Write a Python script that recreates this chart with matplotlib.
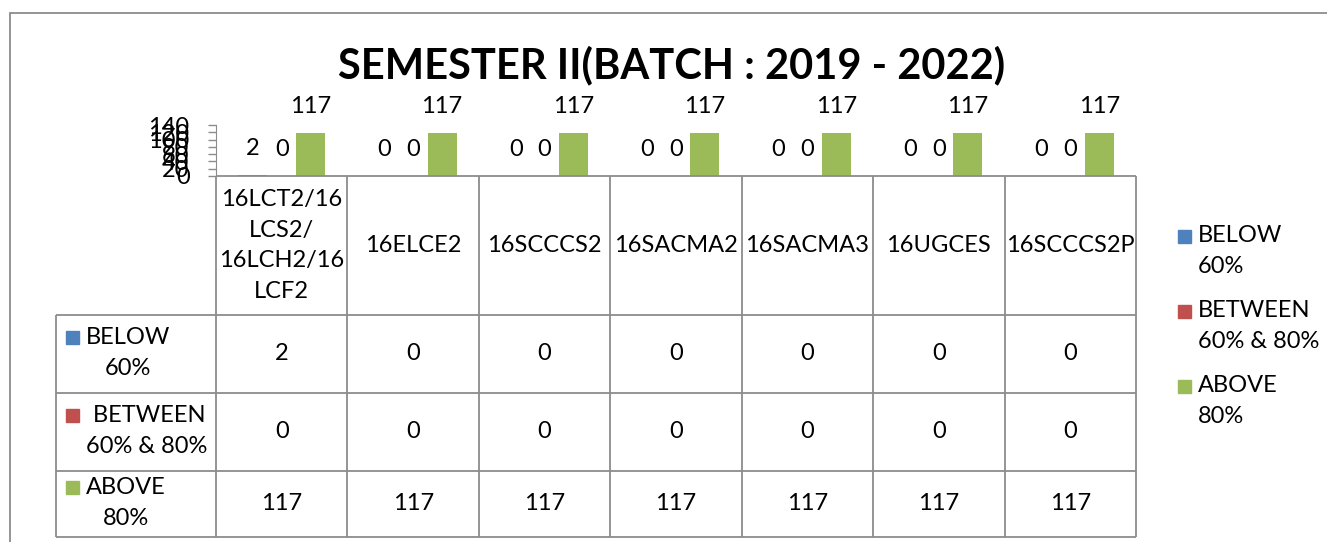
import numpy as np
import matplotlib.pyplot as plt
from matplotlib.patches import Rectangle

# chart data
courses = ['16LCT2/16\nLCS2/\n16LCH2/16\nLCF2', '16ELCE2', '16SCCCS2', '16SACMA2',
           '16SACMA3', '16UGCES', '16SCCCS2P']
below = [2, 0, 0, 0, 0, 0, 0]
between = [0, 0, 0, 0, 0, 0, 0]
above = [117, 117, 117, 117, 117, 117, 117]
series_names = ['BELOW\n60%', 'BETWEEN\n60% & 80%', 'ABOVE\n80%']
row_names = ['BELOW\n60%', ' BETWEEN\n60% & 80%', 'ABOVE\n80%']
colors = ['#4F81BD', '#C0504D', '#9BBB59']
yticks = [0, 20, 40, 60, 80, 100, 120, 140]
title = 'SEMESTER II(BATCH : 2019 - 2022)'

plt.rcParams['font.family'] = ['Lato', 'DejaVu Sans']
W, H = 1327, 542
fig = plt.figure(figsize=(W / 100, H / 100), dpi=100)
grey = '#8c8c8c'
fs = 17
ls = 1.55


def box(l, t, r, b):
    # pixel box -> figure fraction
    return [l / W, 1 - b / H, (r - l) / W, (b - t) / H]


# outer chart frame (cut off at right and bottom)
fig.add_artist(Rectangle((10 / W, -0.1), 1.2, 1 - 12.5 / H + 0.1, transform=fig.transFigure,
                         fill=False, ec=grey, lw=1.3))

fig.text(672 / W, 1 - 65 / H, title, ha='center', va='center', fontsize=30, fontweight='bold')

# bars
ax = fig.add_axes(box(216, 125, 1136, 176))
x = np.arange(len(courses))
bw = 0.22
for i, (vals, c) in enumerate(zip([below, between, above], colors)):
    bars = ax.bar(x + (i - 1) * bw, vals, bw, color=c)
    for b, v in zip(bars, vals):
        ax.annotate(str(v), (b.get_x() + b.get_width() / 2, v), xytext=(0, 19),
                    textcoords='offset points', ha='center', va='center', fontsize=fs,
                    annotation_clip=False)
ax.set_xlim(-0.5, len(courses) - 0.5)
ax.set_ylim(0, 140)
ax.set_yticks(yticks)
ax.set_xticks([])
ax.tick_params(axis='y', length=6, width=1, color=grey, pad=13, labelsize=fs)
for s in ['top', 'right', 'bottom']:
    ax.spines[s].set_visible(False)
ax.spines['left'].set_color(grey)
ax.patch.set_visible(False)

# data table
tab = fig.add_axes(box(56, 176, 1136, 537))
unit = (1136 - 216) / len(courses)
lab_w = 160 / unit
x0 = -0.5 - lab_w
row_edges = [0, 139, 217, 295, 361]
tab.set_xlim(x0, len(courses) - 0.5)
tab.set_ylim(row_edges[-1], 0)
tab.axis('off')
lw = 1.3
tab.vlines(np.arange(len(courses) + 1) - 0.5, 0, row_edges[-1], color=grey, lw=lw, clip_on=False)
tab.vlines(x0, row_edges[1], row_edges[-1], color=grey, lw=lw, clip_on=False)
tab.hlines(0, -0.5, len(courses) - 0.5, color=grey, lw=lw, clip_on=False)
tab.hlines(row_edges[1:], x0, len(courses) - 0.5, color=grey, lw=lw, clip_on=False)

for i, c in enumerate(courses):
    tab.text(i, row_edges[1] / 2, c, ha='center', va='center', fontsize=fs, linespacing=ls)

for r, (vals, name, c) in enumerate(zip([below, between, above], row_names, colors)):
    yc = (row_edges[r + 1] + row_edges[r + 2]) / 2 - 1
    for i, v in enumerate(vals):
        tab.text(i, yc + 1, str(v), ha='center', va='center', fontsize=fs)
    tab.text(x0 + 30 / unit, yc, name, ha='left', va='center', multialignment='center',
             fontsize=fs, linespacing=ls)
    tab.add_patch(Rectangle((x0 + 10 / unit, yc - 15.5 - 6.5), 13 / unit, 13, color=c,
                            clip_on=False))

# legend on the right
for k, (name, c) in enumerate(zip(series_names, colors)):
    yc = 251 + k * 75
    fig.text(1198 / W, 1 - yc / H, name, ha='left', va='center', fontsize=fs, linespacing=ls)
    fig.add_artist(Rectangle((1178 / W, 1 - (yc - 15 + 6.5) / H), 13 / W, 13 / H, color=c,
                             transform=fig.transFigure))

fig.savefig('out.png', dpi=100)
